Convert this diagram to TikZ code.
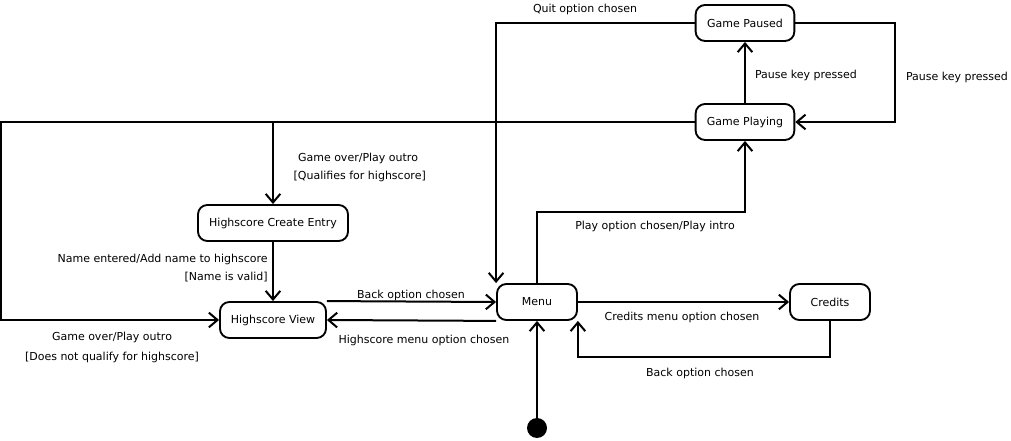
\documentclass[tikz,border=0pt]{standalone}
\usepackage{fontspec}
\setmainfont{DejaVu Sans}
\usetikzlibrary{arrows.meta}
\tikzset{
    state/.style={draw, line width=1.4pt, rounded corners=7pt, fill=white, minimum height=27pt, minimum width=#1, inner sep=0pt},
    arr/.style={line width=1.5pt, -{Straight Barb[length=6.5pt, width=11pt, line width=1.5pt]}},
    lbl/.style={inner sep=0pt, font=\fontsize{8.25pt}{13.5pt}\selectfont}
}
\begin{document}
\begin{tikzpicture}[x=0.75pt, y=-0.75pt, font=\fontsize{8.25pt}{10pt}\selectfont]
            \useasboundingbox (0,0) rectangle (1011,441);

            \node[state=74pt] (paused) at (745,23) {Game Paused};
            \node[state=74pt] (playing) at (745,122) {Game Playing};
            \node[state=112.5pt] (create) at (273,223) {Highscore Create Entry};
            \node[state=79.5pt] (view) at (273,320) {Highscore View};
            \node[state=60pt] (menu) at (537,302) {Menu};
            \node[state=60pt] (credits) at (830,302) {Credits};
            \node[circle, fill, minimum size=15pt, inner sep=0pt] (start) at (537,428) {};

            \coordinate (pauseturn) at (895,23);
            \coordinate (leftturn) at (1,122);
            \coordinate (playturn) at (640,212);
            \coordinate (backturn) at (700,357);

            \draw[arr] (playing) -- (paused);
            \draw[arr] (paused.east) -- (pauseturn) |- (playing.east);
            \draw[arr] (paused.west) -| (menu.north west);
            \draw[arr] (playing.west) -| (create.north);
            \draw[arr] (playing.west) -- (leftturn) |- (view.west);
            \draw[arr] (create) -- (view);
            \draw[arr] (view.north east) -- (menu.west);
            \draw[arr] (menu.south west) -- (view.east);
            \draw[arr] (menu.north) |- (playturn) -| (playing.south);
            \draw[arr] (menu) -- (credits);
            \draw[arr] (credits.south) |- (backturn) -| (menu.south east);
            \draw[arr] (start) -- (menu);

            \node[lbl] (lpause) at (806,75) {Pause key pressed};
            \node[lbl] (lunpause) at (957,77) {Pause key pressed};
            \node[lbl] (lquit) at (585,9) {Quit option chosen};
            \node[lbl, align=center] (lqual) at (358,167) {Game over/Play outro\\{}\ [Qualifies for highscore]};
            \node[lbl, align=right, anchor=east] (lname) at (268,268) {Name entered/Add name to highscore\\{}[Name is valid]};
            \node[lbl, align=center, font=\fontsize{8.25pt}{15pt}\selectfont] (lnoqual) at (112,347) {Game over/Play outro\\{}[Does not qualify for highscore]};
            \node[lbl] (lback) at (411,295) {Back option chosen};
            \node[lbl] (lhigh) at (424,340) {Highscore menu option chosen};
            \node[lbl] (lplay) at (655,226) {Play option chosen/Play intro};
            \node[lbl] (lcred) at (682,317) {Credits menu option chosen};
            \node[lbl] (lcback) at (700,373) {Back option chosen};
\end{tikzpicture}
\end{document}
